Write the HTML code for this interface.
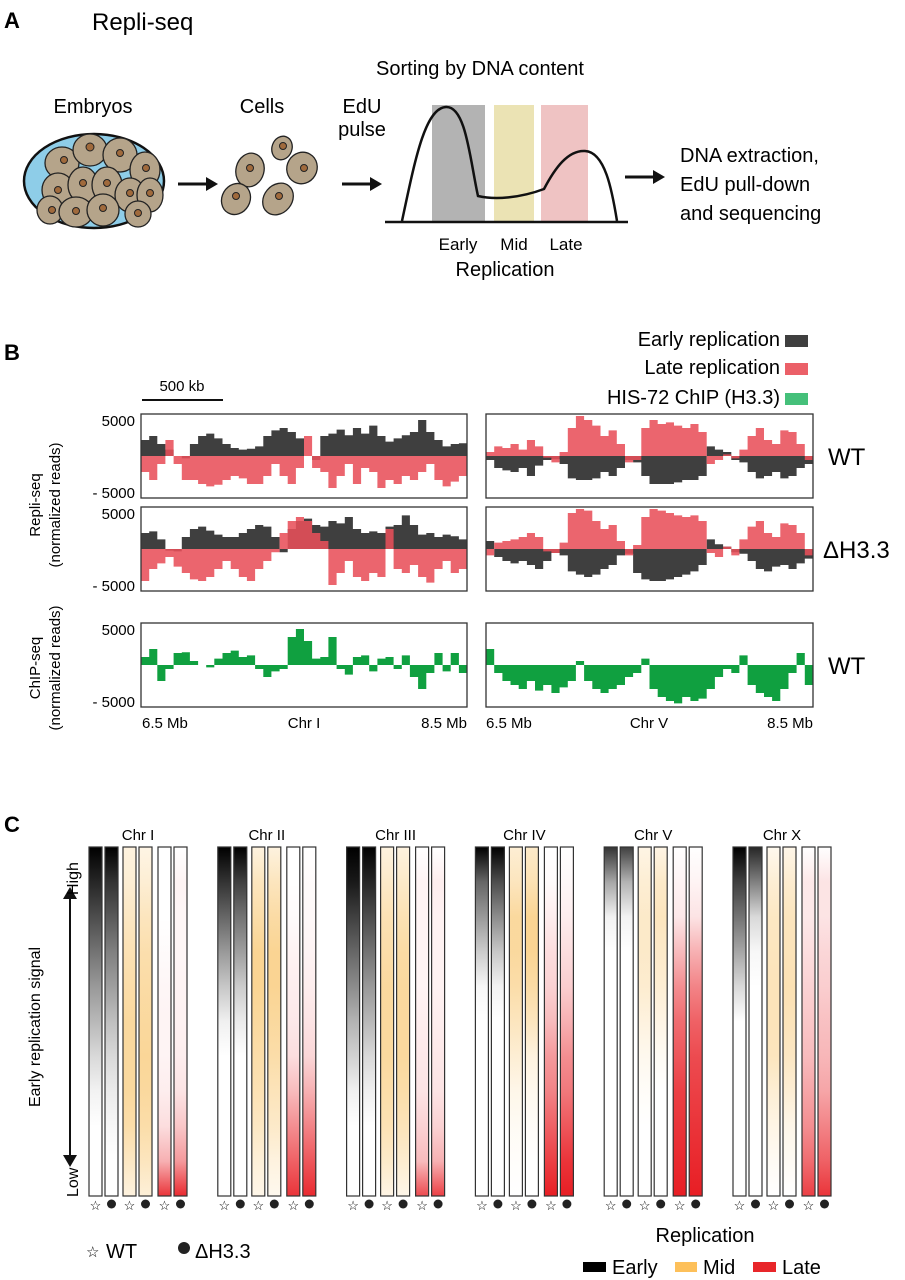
<!DOCTYPE html>
<html><head><meta charset="utf-8"><style>
html,body{margin:0;padding:0;background:#fff;}
svg{display:block;font-family:"Liberation Sans",Arial,sans-serif;}
</style></head><body>
<svg id="fig" width="905" height="1280" viewBox="0 0 905 1280" xmlns="http://www.w3.org/2000/svg">
<defs id="defs"></defs>
<!-- Panel A -->
<g>
<text x="4" y="28" font-size="22" font-weight="bold">A</text>
<text x="92" y="30" font-size="24">Repli-seq</text>
<text x="93" y="113" font-size="20" text-anchor="middle">Embryos</text>
<ellipse cx="94" cy="181" rx="70" ry="47" fill="#8ecde8" stroke="#111" stroke-width="2.5"/>
<g fill="#b5a48a" stroke="#222" stroke-width="1.3">
<ellipse cx="62" cy="163" rx="17" ry="16"/><ellipse cx="90" cy="150" rx="17" ry="16"/><ellipse cx="120" cy="155" rx="17" ry="17"/><ellipse cx="145" cy="170" rx="15" ry="18"/>
<ellipse cx="58" cy="190" rx="16" ry="17"/><ellipse cx="83" cy="185" rx="15" ry="18"/><ellipse cx="107" cy="185" rx="15" ry="18"/><ellipse cx="130" cy="195" rx="15" ry="17"/><ellipse cx="150" cy="195" rx="13" ry="17"/>
<ellipse cx="50" cy="210" rx="13" ry="14"/><ellipse cx="76" cy="212" rx="17" ry="15"/><ellipse cx="103" cy="210" rx="16" ry="16"/><ellipse cx="138" cy="214" rx="13" ry="13"/>
</g>
<g fill="#a06a3c" stroke="#222" stroke-width="1">
<circle cx="64" cy="160" r="3.5"/><circle cx="90" cy="147" r="4"/><circle cx="120" cy="153" r="3.5"/><circle cx="146" cy="168" r="3.5"/>
<circle cx="58" cy="190" r="3.5"/><circle cx="83" cy="183" r="3.5"/><circle cx="107" cy="183" r="3.5"/><circle cx="130" cy="193" r="3.5"/><circle cx="150" cy="193" r="3.5"/>
<circle cx="52" cy="210" r="3.5"/><circle cx="76" cy="211" r="3.5"/><circle cx="103" cy="208" r="3.5"/><circle cx="138" cy="213" r="3.5"/>
</g>
<text x="262" y="113" font-size="20" text-anchor="middle">Cells</text>
<g fill="#b5a48a" stroke="#222" stroke-width="1.3">
<ellipse cx="282" cy="148" rx="10" ry="12" transform="rotate(20 282 148)"/>
<ellipse cx="250" cy="170" rx="14" ry="17" transform="rotate(15 250 170)"/>
<ellipse cx="302" cy="168" rx="15" ry="16" transform="rotate(30 302 168)"/>
<ellipse cx="236" cy="199" rx="14" ry="16" transform="rotate(30 236 199)"/>
<ellipse cx="278" cy="199" rx="14" ry="17" transform="rotate(40 278 199)"/>
</g>
<g fill="#a06a3c" stroke="#222" stroke-width="1">
<circle cx="283" cy="146" r="3.5"/><circle cx="250" cy="168" r="3.5"/><circle cx="304" cy="168" r="3.5"/><circle cx="236" cy="196" r="3.5"/><circle cx="279" cy="196" r="3.5"/>
</g>
<text x="362" y="113" font-size="20" text-anchor="middle">EdU</text>
<text x="362" y="136" font-size="20" text-anchor="middle">pulse</text>
<g stroke="#111" stroke-width="3" fill="#111">
<line x1="178" y1="184" x2="208" y2="184"/><polygon points="206,177 218,184 206,191" stroke="none"/>
<line x1="342" y1="184" x2="372" y2="184"/><polygon points="370,177 382,184 370,191" stroke="none"/>
<line x1="625" y1="177" x2="655" y2="177"/><polygon points="653,170 665,177 653,184" stroke="none"/>
</g>
<text x="480" y="75" font-size="20" text-anchor="middle">Sorting by DNA content</text>
<rect x="432" y="105" width="53" height="116" fill="#b3b3b3"/>
<rect x="494" y="105" width="40" height="116" fill="#ebe3b4"/>
<rect x="541" y="105" width="47" height="116" fill="#efc3c3"/>
<path d="M402,221 C415,160 425,108 446,107 C466,106 470,160 478,196 C495,200 520,198 544,189 C555,168 568,150 585,151 C605,152 612,190 617,221" fill="none" stroke="#111" stroke-width="2.5"/>
<line x1="385" y1="222" x2="628" y2="222" stroke="#111" stroke-width="2.5"/>
<text x="458" y="250" font-size="17" text-anchor="middle">Early</text>
<text x="514" y="250" font-size="17" text-anchor="middle">Mid</text>
<text x="566" y="250" font-size="17" text-anchor="middle">Late</text>
<text x="505" y="276" font-size="20" text-anchor="middle">Replication</text>
<text x="680" y="162" font-size="20">DNA extraction,</text>
<text x="680" y="191" font-size="20">EdU pull-down</text>
<text x="680" y="220" font-size="20">and sequencing</text>
</g>
<!-- Panel B -->
<g id="panelB">
<text x="4" y="360" font-size="22" font-weight="bold">B</text>
<text x="780" y="346" font-size="20" text-anchor="end">Early replication</text>
<rect x="785" y="335" width="23" height="12" fill="#3f3f3f"/>
<text x="780" y="374" font-size="20" text-anchor="end">Late replication</text>
<rect x="785" y="363" width="23" height="12" fill="#eb6068"/>
<text x="780" y="404" font-size="20" text-anchor="end">HIS-72 ChIP (H3.3)</text>
<rect x="785" y="393" width="23" height="12" fill="#45c07a"/>
<text x="182" y="391" font-size="15" text-anchor="middle">500 kb</text>
<line x1="142" y1="400" x2="223" y2="400" stroke="#111" stroke-width="2"/>
<text transform="translate(40,505) rotate(-90)" font-size="15" text-anchor="middle">Repli-seq</text>
<text transform="translate(60,505) rotate(-90)" font-size="15" text-anchor="middle">(normalized reads)</text>
<text transform="translate(40,668) rotate(-90)" font-size="15" text-anchor="middle">ChIP-seq</text>
<text transform="translate(60,668) rotate(-90)" font-size="15" text-anchor="middle">(normalized reads)</text>
<text x="828" y="465" font-size="24">WT</text>
<text x="823" y="558" font-size="24">ΔH3.3</text>
<text x="828" y="674" font-size="24">WT</text>
<text x="142" y="728" font-size="15">6.5 Mb</text>
<text x="304" y="728" font-size="15" text-anchor="middle">Chr I</text>
<text x="467" y="728" font-size="15" text-anchor="end">8.5 Mb</text>
<text x="486" y="728" font-size="15">6.5 Mb</text>
<text x="649" y="728" font-size="15" text-anchor="middle">Chr V</text>
<text x="813" y="728" font-size="15" text-anchor="end">8.5 Mb</text>
</g>
<!-- Panel C -->
<g id="panelC">
<text x="4" y="832" font-size="22" font-weight="bold">C</text>
<text transform="translate(40,1027) rotate(-90)" font-size="16" text-anchor="middle">Early replication signal</text>
<line x1="70" y1="893" x2="70" y2="1160" stroke="#111" stroke-width="2"/>
<polygon points="63,899 70,887 77,899" fill="#111"/>
<polygon points="63,1155 70,1167 77,1155" fill="#111"/>
<text transform="translate(78,895) rotate(-90)" font-size="16">High</text>
<text transform="translate(78,1197) rotate(-90)" font-size="16">Low</text>
<text x="86" y="1257" font-size="15">☆</text>
<text x="106" y="1258" font-size="20">WT</text>
<circle cx="184" cy="1248" r="6" fill="#222"/>
<text x="195" y="1258" font-size="20">ΔH3.3</text>
<text x="705" y="1242" font-size="20" text-anchor="middle">Replication</text>
<rect x="583" y="1262" width="23" height="10" fill="#000"/>
<text x="612" y="1274" font-size="20">Early</text>
<rect x="675" y="1262" width="22" height="10" fill="#fdc05a"/>
<text x="703" y="1274" font-size="20">Mid</text>
<rect x="753" y="1262" width="23" height="10" fill="#e8262a"/>
<text x="782" y="1274" font-size="20">Late</text>
</g>
</svg>
<script>
// ---- Panel B data (normalized reads, 40 bins over 6.5-8.5 Mb) ----
const chr1WtEarly=[2000,2500,1500,800,0,-300,1500,2500,2800,2200,1500,1000,800,900,1200,2500,3200,3500,3000,2200,0,-500,2500,2800,3300,2600,3500,2800,3800,2500,1800,2200,2600,3000,4500,3000,2000,1200,1500,1600];
const chr1WtLate=[-2000,-3000,-1000,2000,-1000,-3000,-3000,-3500,-3800,-3600,-3000,-2500,-2800,-3500,-3500,-2500,-1000,-2500,-3500,-1500,2500,-1500,-2000,-4000,-2500,-1000,-3500,-1500,-2000,-4000,-3000,-3500,-2500,-3000,-2000,-1000,-3000,-3800,-3200,-2500];
const chr1MutEarly=[2000,2200,1200,-200,-300,1500,2500,2800,2300,1800,1500,1500,2000,2500,3000,2800,1500,-400,2500,3500,3800,3000,2800,3500,3200,4000,2500,2000,2200,2000,2800,3000,4200,3000,1800,2000,1500,1800,1600,1200];
const chr1MutLate=[-4000,-2500,-1800,-1000,-2200,-3000,-3800,-4000,-3500,-2500,-1500,-2500,-3500,-4000,-2500,-1500,-400,2000,3500,4000,3500,2000,1000,-4500,-3000,-1500,-3500,-4000,-3000,-3500,2500,-2500,-3000,-2000,-3500,-4200,-2500,-1500,-3000,-2500];
const chr5WtEarly=[-500,-1500,-1800,-2000,-1500,-2500,-1200,-500,-400,-1000,-2800,-3000,-3000,-2800,-2000,-2500,-1500,-500,-800,-2500,-3500,-3500,-3500,-3300,-3000,-3000,-2500,1200,800,500,-500,-800,-2000,-2800,-2500,-2000,-2800,-2500,-1500,-1000];
const chr5WtLate=[500,1200,1000,1500,800,2000,1200,-200,-800,500,3500,5000,4500,3800,2500,3200,1500,-800,-500,3500,4500,4000,4200,3800,3500,4000,3000,-1000,-500,200,-300,800,2500,3500,2000,1500,3200,3000,1500,-500];
const chr5MutEarly=[1000,-1000,-1500,-1800,-1500,-2000,-2500,-1500,-500,-800,-2800,-3200,-3500,-3200,-2500,-2000,-800,-600,-3000,-3800,-4000,-4000,-3800,-3500,-3200,-2800,-2000,1200,600,300,-400,-600,-1500,-2500,-2800,-2200,-2000,-2500,-1800,-1200];
const chr5MutLate=[-800,800,1000,1200,1500,2000,1500,-300,-500,800,4500,5000,4800,3500,2500,3000,1000,-800,500,4000,5000,4800,4500,4200,4000,4200,3500,-500,-1000,300,-800,1200,2800,3500,2000,1500,3200,3000,2000,-800];
const chr1Chip=[1000,2000,-2000,-500,1500,1600,500,0,-300,800,1500,1800,1000,1200,-500,-1500,-800,-500,3500,4500,3000,800,1000,3500,-500,-1200,1000,1200,-800,800,1000,-500,1200,-1500,-3000,-1000,1500,-800,1500,-1000];
const chr5Chip=[2000,-1000,-2000,-2500,-3000,-2000,-3200,-2500,-3500,-2800,-2000,500,-2000,-3000,-3500,-3000,-2500,-1500,-1000,800,-3000,-4000,-4500,-4800,-4000,-4500,-4200,-3000,-1500,-500,-1000,1200,-2500,-3500,-4000,-4500,-3000,-1000,1500,-2500];
const yTickLabels=["5000","- 5000"];

// ---- Panel C data: profiles along sorted bins (top = high early signal) ----
const chromNames=["Chr I","Chr II","Chr III","Chr IV","Chr V","Chr X"];
const earlyWt=[[1,.85,.7,.55,.4,.28,.15,.05,0,0,0],[1,.8,.6,.4,.22,.06,0,0,0,0,0],[1,.9,.75,.6,.45,.3,.18,.06,0,0,0],[1,.6,.4,.2,.03,0,0,0,0,0,0],[.8,.35,.05,0,0,0,0,0,0,0,0],[1,.75,.55,.35,.15,0,0,0,0,0,0]];
const earlyMut=[[1,.8,.65,.5,.38,.25,.15,.08,.03,0,0],[1,.75,.55,.38,.2,.08,0,0,0,0,0],[1,.85,.7,.55,.4,.28,.15,.06,0,0,0],[1,.7,.45,.22,.05,0,0,0,0,0,0],[.75,.3,.05,0,0,0,0,0,0,0,0],[.85,.5,.15,.03,0,0,0,0,0,0,0]];
const midWt=[[.15,.2,.28,.35,.4,.45,.45,.45,.4,.28,.15],[.15,.3,.4,.5,.5,.45,.4,.35,.28,.18,.1],[.15,.25,.35,.4,.45,.45,.45,.4,.35,.25,.12],[.2,.3,.45,.45,.4,.3,.2,.1,.05,.02,0],[.12,.2,.25,.25,.22,.15,.08,.03,0,0,0],[.08,.2,.28,.3,.32,.32,.3,.2,.12,.05,0]];
const midMut=[[.12,.2,.3,.38,.42,.45,.48,.45,.4,.3,.18],[.15,.3,.42,.5,.5,.45,.4,.32,.25,.15,.08],[.15,.25,.35,.42,.45,.45,.45,.4,.32,.22,.1],[.25,.35,.5,.5,.42,.3,.15,.08,.03,0,0],[.12,.25,.3,.25,.2,.12,.05,0,0,0,0],[.1,.22,.3,.32,.35,.32,.28,.2,.1,.05,0]];
const lateWt=[[0,0,0,.02,.04,.05,.05,.08,.15,.35,.9],[0,0,.02,.05,.08,.1,.15,.3,.5,.7,.9],[0,.05,.05,.05,.05,.08,.1,.12,.2,.3,.8],[0,.02,.08,.15,.2,.3,.45,.55,.7,.85,1],[0,.05,.1,.3,.5,.65,.75,.85,.9,.95,1],[0,.1,.1,.15,.2,.25,.3,.4,.5,.65,.85]];
const lateMut=[[0,.05,.04,.04,.05,.06,.08,.12,.25,.45,.95],[0,.02,.03,.05,.08,.12,.18,.35,.55,.75,.95],[0,.08,.06,.06,.06,.08,.1,.12,.2,.35,.85],[0,.03,.08,.15,.22,.35,.5,.6,.75,.9,1],[0,.05,.12,.35,.55,.7,.8,.85,.9,.95,1],[0,.12,.12,.18,.22,.28,.32,.4,.55,.7,.9]];

const NS="http://www.w3.org/2000/svg";
const defs=document.getElementById('defs');
const pB=document.getElementById('panelB');
const pC=document.getElementById('panelC');
function mk(tag,attrs,parent){const e=document.createElementNS(NS,tag);for(const k in attrs)e.setAttribute(k,attrs[k]);parent.appendChild(e);return e;}

function trackX(box,i,n){return box.x+box.w*i/n;}
function trackY(box,v){return box.y+box.h/2-v/5000*(box.h/2-2);}
function areaPath(box,vals){
  const n=vals.length;const y0=trackY(box,0);let d="M"+box.x+","+y0;
  for(let i=0;i<n;i++){const y=trackY(box,vals[i]);d+=" L"+trackX(box,i,n).toFixed(1)+","+y.toFixed(1)+" L"+trackX(box,i+1,n).toFixed(1)+","+y.toFixed(1);}
  d+=" L"+(box.x+box.w)+","+y0+" Z";return d;
}
const boxes=[
 {x:141,y:414,w:326,h:84,series:[[chr1WtEarly,'#3f3f3f',1],[chr1WtLate,'#e8505a',.88]],name:'track-wt-chr1'},
 {x:486,y:414,w:327,h:84,series:[[chr5WtEarly,'#3f3f3f',1],[chr5WtLate,'#e8505a',.88]],name:'track-wt-chr5'},
 {x:141,y:507,w:326,h:84,series:[[chr1MutEarly,'#3f3f3f',1],[chr1MutLate,'#e8505a',.88]],name:'track-dh33-chr1'},
 {x:486,y:507,w:327,h:84,series:[[chr5MutEarly,'#3f3f3f',1],[chr5MutLate,'#e8505a',.88]],name:'track-dh33-chr5'},
 {x:141,y:623,w:326,h:84,series:[[chr1Chip,'#10a040',1]],name:'track-chip-chr1'},
 {x:486,y:623,w:327,h:84,series:[[chr5Chip,'#10a040',1]],name:'track-chip-chr5'}
];
boxes.forEach((b,bi)=>{
  const g=mk('g',{},pB);
  
  
  b.series.forEach((s,si)=>{
    const p=mk('path',{d:areaPath(b,s[0]),fill:s[1],'fill-opacity':s[2]},g);
    
    
  });
  const r=mk('rect',{x:b.x,y:b.y,width:b.w,height:b.h,fill:'none',stroke:'#333','stroke-width':1.3},g);
  
  
  if(b.x<200){
    const t1=mk('text',{x:b.x-6,y:b.y+12,'font-size':15,'text-anchor':'end'},pB);t1.textContent=yTickLabels[0];
    
    
    const t2=mk('text',{x:b.x-6,y:b.y+b.h,'font-size':15,'text-anchor':'end'},pB);t2.textContent=yTickLabels[1];
    
    
  }
});

// Panel C heatmaps
const colTop=847,colBot=1196,colW=13;
const colOffsets=[0,16,34,50,69,85];
function groupX(gi){return 89+gi*128.8;}
function colorFor(kind,v){
  if(kind===0){const c=Math.round(255*(1-v));return `rgb(${c},${c},${c})`;}
  if(kind===1){return `rgba(245,170,40,${v})`;}
  return `rgba(232,30,36,${v})`;
}
chromNames.forEach((nm,gi)=>{
  const gx=groupX(gi);
  const g=mk('g',{},pC);
  
  
  const profs=[[earlyWt[gi],0],[earlyMut[gi],0],[midWt[gi],1],[midMut[gi],1],[lateWt[gi],2],[lateMut[gi],2]];
  profs.forEach((pr,ci)=>{
    const id='grad'+gi+'_'+ci;
    const lg=mk('linearGradient',{id:id,x1:0,y1:0,x2:0,y2:1},defs);
    const vals=pr[0];
    vals.forEach((v,k)=>{mk('stop',{offset:(k/(vals.length-1)).toFixed(3),'stop-color':colorFor(pr[1],v)},lg);});
    const x=gx+colOffsets[ci];
    const bg=mk('rect',{x:x,y:colTop,width:colW,height:colBot-colTop,fill:'#fff'},g);
    
    
    const r=mk('rect',{x:x,y:colTop,width:colW,height:colBot-colTop,fill:'url(#'+id+')',stroke:'#333','stroke-width':1.2},g);
    
    
    if(ci%2===0){
      const s=mk('text',{x:x+colW/2,y:1210,'font-size':13,'text-anchor':'middle'},g);s.textContent='☆';
      
      
    }else{
      const c=mk('circle',{cx:x+colW/2,cy:1204,r:4.5,fill:'#222'},g);
      
      
    }
  });
  const t=mk('text',{x:gx+49,y:840,'font-size':15,'text-anchor':'middle'},g);t.textContent=nm;
  
  
});
</script>
</body></html>
